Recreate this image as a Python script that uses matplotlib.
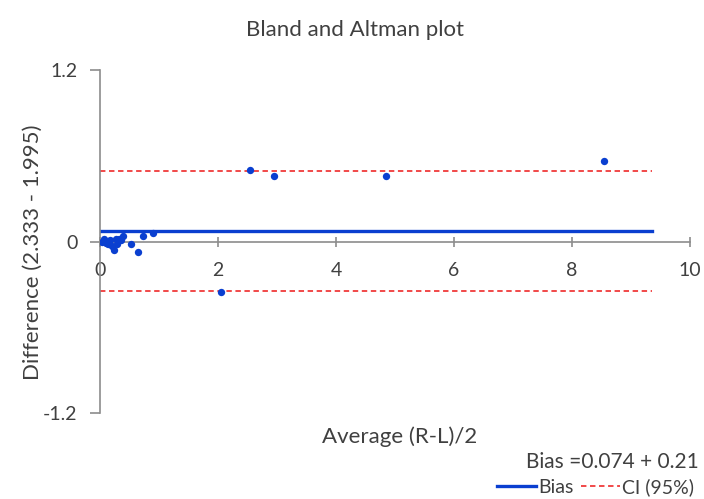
import matplotlib
matplotlib.use("Agg")
import matplotlib.pyplot as plt
from matplotlib.lines import Line2D

# Data
avg = [0.03, 0.07, 0.10, 0.14, 0.17, 0.20, 0.24, 0.27, 0.29, 0.32, 0.36, 0.39,
       0.52, 0.64, 0.73, 0.90, 2.05, 2.55, 2.95, 4.85, 8.55]
diff = [0.00, 0.02, -0.01, -0.02, 0.01, -0.03, -0.06, 0.02, -0.02, 0.02, 0.01, 0.04,
        -0.02, -0.07, 0.04, 0.06, -0.35, 0.50, 0.46, 0.46, 0.56]
bias = 0.074
ci_upper = 0.494
ci_lower = -0.346
line_x = [0, 9.35]
x_ticks = [0, 2, 4, 6, 8, 10]
y_ticks = [-1.2, 0, 1.2]

plt.rcParams['font.family'] = ['Lato', 'DejaVu Sans']
text_col = '#404040'
axis_col = '#8c8c8c'
blue = '#0a3fd0'
red = '#f03a3a'

fig = plt.figure(figsize=(7.04, 4.99), dpi=100)
ax = fig.add_axes([0.142, 0.172, 0.838, 0.688])

ax.plot(line_x, [bias, bias], color=blue, lw=2.4, zorder=2)
ax.plot(line_x, [ci_upper, ci_upper], color=red, lw=1.3, ls=(0, (3, 2)), zorder=2)
ax.plot(line_x, [ci_lower, ci_lower], color=red, lw=1.3, ls=(0, (3, 2)), zorder=2)
ax.scatter(avg, diff, s=28, color=blue, zorder=3, linewidths=0)

ax.set_xlim(0, 10)
ax.set_ylim(-1.2, 1.2)
ax.set_xticks(x_ticks)
ax.set_yticks(y_ticks)
ax.set_yticklabels(['-1.2', '0', '1.2'])

ax.spines['top'].set_visible(False)
ax.spines['right'].set_visible(False)
ax.spines['bottom'].set_position(('data', 0))
for s in ['left', 'bottom']:
    ax.spines[s].set_color(axis_col)
    ax.spines[s].set_linewidth(1.2)

ax.tick_params(axis='x', direction='inout', length=7, width=1.2, color=axis_col,
               labelcolor=text_col, labelsize=14, pad=11)
ax.tick_params(axis='y', direction='out', length=7, width=1.2, color=axis_col,
               labelcolor=text_col, labelsize=14, pad=9)

fig.text(0.504, 0.94, 'Bland and Altman plot', ha='center', va='center',
         fontsize=16, color=text_col)
fig.text(0.046, 0.495, 'Difference (2.333 - 1.995)', ha='center', va='center',
         rotation=90, fontsize=16, color=text_col)
fig.text(0.567, 0.124, 'Average (R-L)/2', ha='center', va='center',
         fontsize=16, color=text_col)
fig.text(0.993, 0.074, 'Bias =0.074 + 0.21', ha='right', va='center',
         fontsize=15, color=text_col)

handles = [Line2D([], [], color=blue, lw=2.4),
           Line2D([], [], color=red, lw=1.3, ls=(0, (3, 2)))]
fig.legend(handles, ['Bias', 'CI (95%)'], loc='center right',
           bbox_to_anchor=(1.005, 0.024), ncol=2, frameon=False, fontsize=14,
           labelcolor=text_col, handlelength=2.0, handletextpad=0.1,
           columnspacing=0.4, borderpad=0.2)

fig.savefig('out.png', dpi=100)
